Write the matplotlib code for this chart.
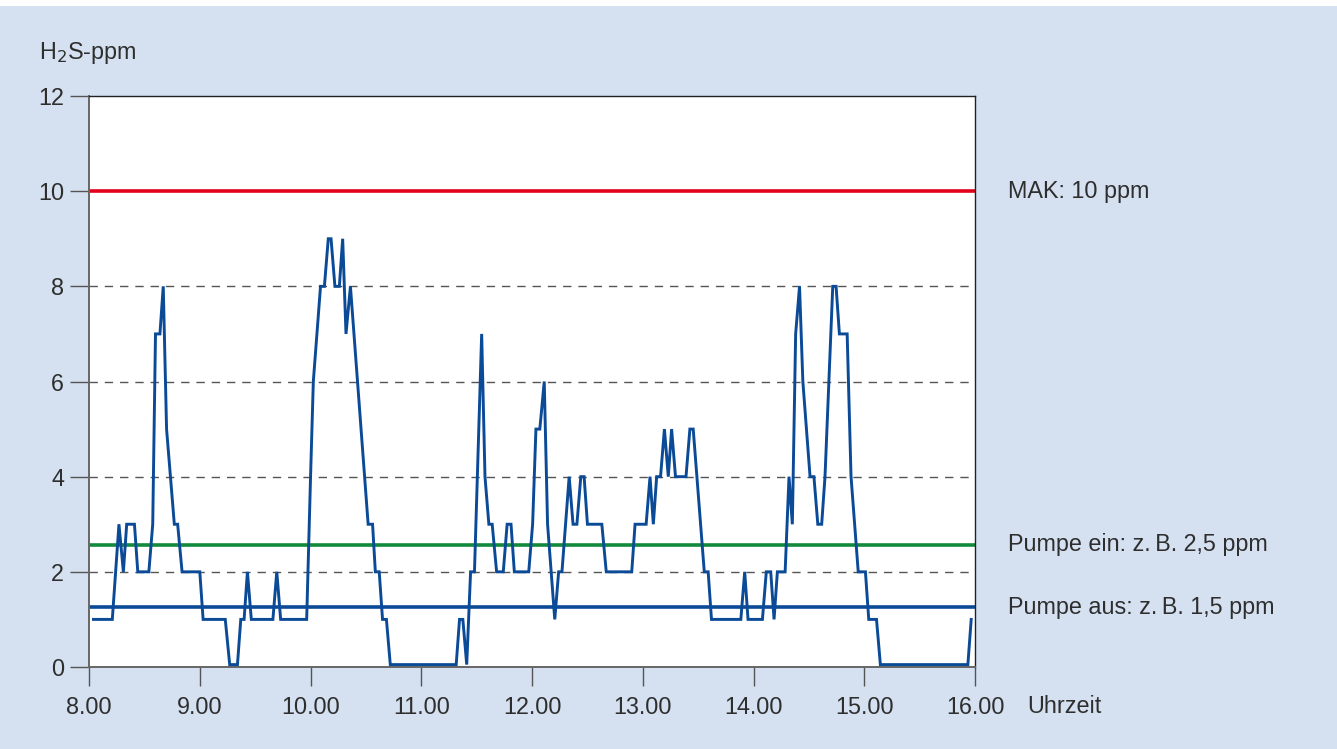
import matplotlib.pyplot as plt
from matplotlib.patches import Rectangle

# measured H2S concentration over the working day
hours = [8.04, 8.21, 8.27, 8.31, 8.34, 8.41, 8.44, 8.54, 8.575, 8.60, 8.64, 8.67, 8.70, 8.77, 8.80, 8.84,
         9.00, 9.03, 9.23, 9.27, 9.34, 9.37, 9.40, 9.43, 9.465, 9.66, 9.695, 9.73, 9.965,
         10.00, 10.025, 10.09, 10.125, 10.16, 10.185, 10.22, 10.26, 10.29, 10.32, 10.36, 10.52, 10.56,
         10.585, 10.62, 10.65, 10.685, 10.72,
         11.315, 11.345, 11.375, 11.41, 11.445, 11.48, 11.545, 11.575, 11.61, 11.64, 11.68, 11.74,
         11.775, 11.81, 11.84, 11.97,
         12.005, 12.035, 12.07, 12.11, 12.14, 12.205, 12.24, 12.27, 12.335, 12.37, 12.405, 12.44,
         12.47, 12.50, 12.63, 12.67, 12.90, 12.93,
         13.03, 13.065, 13.095, 13.125, 13.16, 13.195, 13.23, 13.26, 13.295, 13.39, 13.425, 13.455,
         13.555, 13.59, 13.62, 13.885, 13.92, 13.95,
         14.08, 14.115, 14.155, 14.185, 14.215, 14.285, 14.32, 14.35, 14.38, 14.415, 14.445, 14.51,
         14.545, 14.58, 14.615, 14.645, 14.715, 14.745, 14.775, 14.845, 14.88, 14.945,
         15.01, 15.04, 15.11, 15.145, 15.935, 15.965]
ppm = [1, 1, 3, 2, 3, 3, 2, 2, 3, 7, 7, 8, 5, 3, 3, 2,
       2, 1, 1, 0.05, 0.05, 1, 1, 2, 1, 1, 2, 1, 1,
       4, 6, 8, 8, 9, 9, 8, 8, 9, 7, 8, 3, 3,
       2, 2, 1, 1, 0.05,
       0.05, 1, 1, 0.05, 2, 2, 7, 4, 3, 3, 2, 2,
       3, 3, 2, 2,
       3, 5, 5, 6, 3, 1, 2, 2, 4, 3, 3, 4,
       4, 3, 3, 2, 2, 3,
       3, 4, 3, 4, 4, 5, 4, 5, 4, 4, 5, 5,
       2, 2, 1, 1, 2, 1,
       1, 2, 2, 1, 2, 2, 4, 3, 7, 8, 6, 4,
       4, 3, 3, 4, 8, 8, 7, 7, 4, 2,
       2, 1, 1, 0.05, 0.05, 1]

mak_limit = 10
pump_on = 2.57
pump_off = 1.26
limit_labels = ["MAK: 10 ppm", "Pumpe ein: z.\u2009B. 2,5 ppm", "Pumpe aus: z.\u2009B. 1,5 ppm"]

x_ticks = [8, 9, 10, 11, 12, 13, 14, 15, 16]
x_ticklabels = ["8.00", "9.00", "10.00", "11.00", "12.00", "13.00", "14.00", "15.00", "16.00"]
y_ticks = [0, 2, 4, 6, 8, 10, 12]

bg = "#d5e1f0"
text_col = "#2e2e2e"
fs = 16.8
plt.rcParams["font.family"] = ["Liberation Sans", "DejaVu Sans"]

fig = plt.figure(figsize=(13.37, 7.49), dpi=100, facecolor=bg)
fig.patches.append(Rectangle((0, 0.992), 1, 0.008, transform=fig.transFigure,
                             facecolor="white", edgecolor="none"))
ax = fig.add_axes([0.0666, 0.1095, 0.6627, 0.7623])
ax.set_facecolor("white")

for yv in [2, 4, 6, 8]:
    ax.axhline(yv, color="#555555", lw=1.0, ls=(0, (6, 5)), zorder=1)

ax.axhline(mak_limit, color="#e2001a", lw=2.6, zorder=2)
ax.axhline(pump_on, color="#128a3c", lw=2.6, zorder=2)
ax.axhline(pump_off, color="#0a4a97", lw=2.6, zorder=2)
ax.plot(hours, ppm, color="#0a4a97", lw=2.1, zorder=3, solid_joinstyle="miter")

ax.set_xlim(8, 16)
ax.set_ylim(0, 12)
ax.set_xticks(x_ticks)
ax.set_xticklabels(x_ticklabels)
ax.set_yticks(y_ticks)
ax.tick_params(axis="both", direction="out", length=14, width=1.0, color="#555555",
               labelsize=fs, labelcolor=text_col)
ax.tick_params(axis="x", pad=7)
ax.tick_params(axis="y", pad=4)

for side in ["left", "bottom"]:
    ax.spines[side].set_color("#666666")
    ax.spines[side].set_linewidth(1.4)
for side in ["top", "right"]:
    ax.spines[side].set_color("#222222")
    ax.spines[side].set_linewidth(1.0)

for yv, label in zip([mak_limit, pump_on, pump_off], limit_labels):
    ax.annotate(label, xy=(1, yv), xycoords=("axes fraction", "data"),
                xytext=(33, 0), textcoords="offset pixels",
                va="center", ha="left", fontsize=fs, color=text_col)

fig.text(0.0295, 0.929, "H$_2$S-ppm", fontsize=fs, color=text_col, va="center", ha="left")
fig.text(0.768, 0.057, "Uhrzeit", fontsize=fs, color=text_col, va="center", ha="left")

fig.savefig("out.png", dpi=100, facecolor=bg)
